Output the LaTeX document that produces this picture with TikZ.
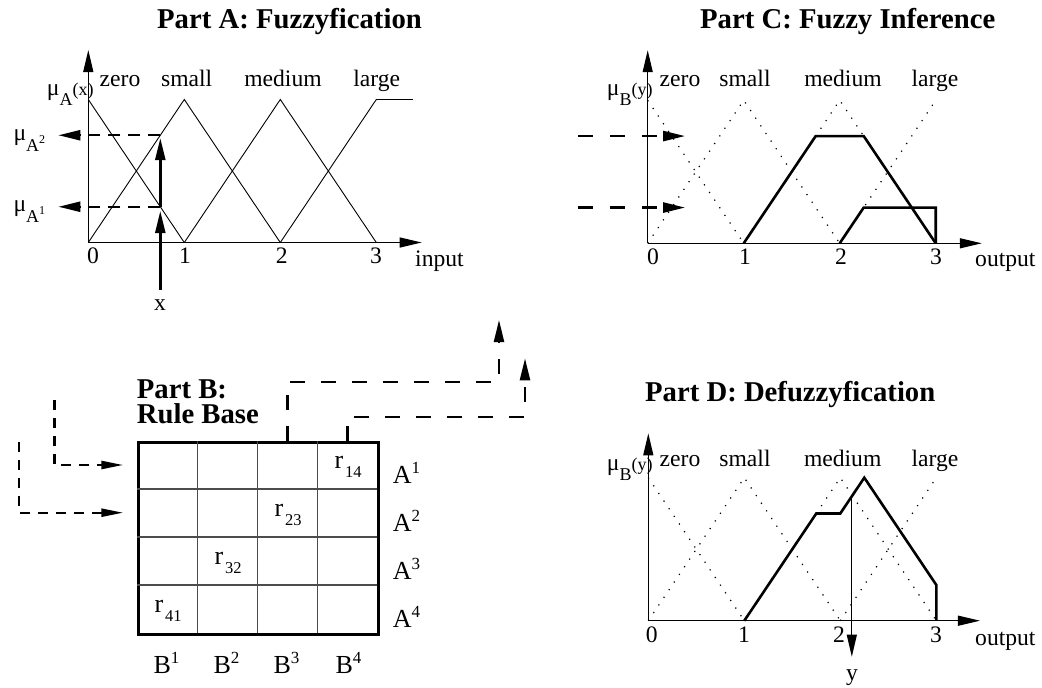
\documentclass[tikz,border=0pt]{standalone}
\usepackage{fontspec}
\setmainfont{Liberation Serif}
\usetikzlibrary{arrows.meta}
\newcommand\fsz[1]{\fontsize{#1pt}{#1pt}\selectfont}
\begin{document}
\begin{tikzpicture}[x=1pt,y=-1pt,
  lbl/.style={font=\fsz{23.6}, inner sep=0pt},
  ttl/.style={font=\fsz{28.7}\bfseries, inner sep=0pt},
  gl/.style={font=\fsz{26}, inner sep=0pt},
  axis/.style={line width=1.3pt, -{Triangle[length=22pt,width=10pt]}},
  mf/.style={line width=0.9pt},
  dotf/.style={line width=1.2pt, dash pattern=on 1.2pt off 8pt},
  res/.style={line width=2.6pt},
  thickarr/.style={line width=2.4pt, -{Triangle[length=22pt,width=10pt]}},
  thinarr/.style={line width=1pt, -{Triangle[length=22pt,width=10pt]}},
  dshA/.style={line width=2.4pt, dash pattern=on 12pt off 8pt, -{Triangle[length=22pt,width=10pt]}},
  dshC/.style={line width=2.4pt, dash pattern=on 15pt off 17pt, -{Triangle[length=22pt,width=10pt]}},
  dshB/.style={line width=2.4pt, dash pattern=on 10pt off 8pt, -{Triangle[length=22pt,width=8pt]}},
  dshT/.style={line width=2.4pt, dash pattern=on 15pt off 16pt, -{Triangle[length=22pt,width=10pt]}},
  inner/.style={line width=1.2pt, black!70}
]
\useasboundingbox (0,0) rectangle (1042,688);

% ---------------- Part A ----------------
\node[ttl, anchor=base west] (tA) at (157,28) {Part A: Fuzzyfication};
\begin{scope}[shift={(88.3,242.5)},x=96pt,y=143pt]
  \coordinate (A0) at (0,0);
  \coordinate (Ax) at (3.473,0);
  \coordinate (Ay) at (0,1.346);
  \draw[axis] (A0) -- (Ax);
  \draw[axis] (A0) -- (Ay);
  \draw[mf] (0,1) -- (1,0);
  \draw[mf] (0,0) -- (1,1) -- (2,0);
  \draw[mf] (1,0) -- (2,1) -- (3,0);
  \draw[mf] (2,0) -- (3,1) -- (3.38,1);
  \coordinate (Ain) at (0.75,-0.33);
  \coordinate (Ain1) at (0.75,0.22);
  \coordinate (A1) at (0.75,0.25);
  \coordinate (A2t) at (0.75,0.73);
  \coordinate (A2) at (0.75,0.75);
  \coordinate (A1e) at (-0.3125,0.25);
  \coordinate (A2e) at (-0.3125,0.75);
  \draw[dshA] (A2) -- (A2e);
  \draw[dshA] (A1) -- (A1e);
  \draw[thickarr] (Ain) -- (Ain1);
  \draw[thickarr] (A1) -- (A2t);
\end{scope}
\node[lbl, anchor=base west] (muA) at (46.7,95) {μ\raisebox{-10pt}{\fsz{18}A}\fsz{18}(x)};
\node[lbl, anchor=base west] (muA2) at (13.3,140) {μ\raisebox{-11pt}{\fsz{18}A\raisebox{8pt}{\fsz{12}2}}};
\node[lbl, anchor=base west] (muA1) at (13.3,211.7) {μ\raisebox{-11pt}{\fsz{18}A\raisebox{8pt}{\fsz{12}1}}};
\node[lbl, anchor=base] (zA) at (120,86.5) {zero};
\node[lbl, anchor=base] (sA) at (186.7,86.5) {small};
\node[lbl, anchor=base] (mA) at (283,86.5) {medium};
\node[lbl, anchor=base] (lA) at (376.7,86.5) {large};
\node[lbl, anchor=base] (a0) at (93,263.5) {0};
\node[lbl, anchor=base] (a1) at (185,263.5) {1};
\node[lbl, anchor=base] (a2) at (281.7,263.5) {2};
\node[lbl, anchor=base] (a3) at (376,263.5) {3};
\node[lbl, anchor=base west] (inp) at (415,266.7) {input};
\node[lbl, anchor=base] (xl) at (160,310) {x};

% ---------------- Part C ----------------
\node[ttl, anchor=base west] (tC) at (700,28) {Part C: Fuzzy Inference};
\begin{scope}[shift={(647.7,243.3)},x=96pt,y=143pt]
  \coordinate (C0) at (0,0);
  \coordinate (Cx) at (3.48,0);
  \coordinate (Cy) at (0,1.35);
  \draw[axis] (C0) -- (Cx);
  \draw[axis] (C0) -- (Cy);
  \draw[dotf] (0,1) -- (1,0);
  \draw[dotf] (0,0) -- (1,1) -- (2,0);
  \draw[dotf] (1,0) -- (2,1) -- (3,0);
  \draw[dotf] (2,0) -- (3,1);
  \draw[res] (1,0) -- (1.75,0.75) -- (2.25,0.75) -- (3,0);
  \draw[res] (2,0) -- (2.25,0.25) -- (3,0.25) -- (3,0);
  \coordinate (C2s) at (-0.726,0.75);
  \coordinate (C2t) at (0.39,0.75);
  \coordinate (C1s) at (-0.726,0.25);
  \coordinate (C1t) at (0.39,0.25);
  \draw[dshC] (C2s) -- (C2t);
  \draw[dshC] (C1s) -- (C1t);
\end{scope}
\node[lbl, anchor=base west] (muC) at (606.7,95) {μ\raisebox{-10pt}{\fsz{18}B}\fsz{18}(y)};
\node[lbl, anchor=base] (zC) at (680,86.5) {zero};
\node[lbl, anchor=base] (sC) at (745,86.5) {small};
\node[lbl, anchor=base] (mC) at (843,86.5) {medium};
\node[lbl, anchor=base] (lC) at (935,86.5) {large};
\node[lbl, anchor=base] (c0) at (653,264) {0};
\node[lbl, anchor=base] (c1) at (745,264) {1};
\node[lbl, anchor=base] (c2) at (841,264) {2};
\node[lbl, anchor=base] (c3) at (936,264) {3};
\node[lbl, anchor=base west] (outC) at (975,266.7) {output};

% ---------------- Part D ----------------
\node[ttl, anchor=base west] (tD) at (645,401) {Part D: Defuzzyfication};
\begin{scope}[shift={(648.3,620.7)},x=96pt,y=143pt]
  \coordinate (D0) at (0,0);
  \coordinate (Dx) at (3.455,0);
  \coordinate (Dy) at (0,1.31);
  \draw[axis] (D0) -- (Dx);
  \draw[axis] (D0) -- (Dy);
  \draw[dotf] (0,1) -- (1,0);
  \draw[dotf] (0,0) -- (1,1) -- (2,0);
  \draw[dotf] (1,0) -- (2,1) -- (3,0);
  \draw[dotf] (2,0) -- (3,1);
  \draw[res] (1,0) -- (1.75,0.75) -- (2,0.75) -- (2.25,1) -- (3,0.25) -- (3,0);
  \coordinate (Dys) at (2.12,0.87);
  \coordinate (Dyt) at (2.12,-0.252);
  \draw[thinarr] (Dys) -- (Dyt);
\end{scope}
\node[lbl, anchor=base west] (muD) at (606.7,470) {μ\raisebox{-10pt}{\fsz{18}B}\fsz{18}(y)};
\node[lbl, anchor=base] (zD) at (680,466) {zero};
\node[lbl, anchor=base] (sD) at (745,466) {small};
\node[lbl, anchor=base] (mD) at (842.7,466) {medium};
\node[lbl, anchor=base] (lD) at (935,466) {large};
\node[lbl, anchor=base] (d0) at (651.7,642) {0};
\node[lbl, anchor=base] (d1) at (744,642) {1};
\node[lbl, anchor=base] (d2) at (839,642) {2};
\node[lbl, anchor=base] (d3) at (936,642) {3};
\node[lbl, anchor=base west] (outD) at (975,645.7) {output};
\node[lbl, anchor=base] (yl) at (852,680) {y};

% ---------------- Part B ----------------
\node[ttl, anchor=base west] (tB1) at (136.7,398.3) {Part B:};
\node[ttl, anchor=base west] (tB2) at (136.7,423.3) {Rule Base};
\node[draw, line width=2.6pt, minimum width=240pt, minimum height=192pt,
      inner sep=0pt, anchor=north west] (grid) at (137.3,441) {};
\foreach \i in {1,2,3} {
  \draw[inner] (137.3+60*\i,441) -- (137.3+60*\i,633);
  \draw[inner] (137.3,441+48*\i) -- (377.3,441+48*\i);
}
\node[gl, anchor=base west] (r14) at (334.3,468) {r\hspace{2pt}\raisebox{-9pt}{\fsz{16.5}14}};
\node[gl, anchor=base west] (r23) at (274.3,516) {r\hspace{2pt}\raisebox{-9pt}{\fsz{16.5}23}};
\node[gl, anchor=base west] (r32) at (214.3,564) {r\hspace{2pt}\raisebox{-9pt}{\fsz{16.5}32}};
\node[gl, anchor=base west] (r41) at (154.3,612) {r\hspace{2pt}\raisebox{-9pt}{\fsz{16.5}41}};
\node[gl, anchor=base west] (gA1) at (392.7,483) {A\raisebox{9.5pt}{\fsz{17}1}};
\node[gl, anchor=base west] (gA2) at (392.7,531) {A\raisebox{9.5pt}{\fsz{17}2}};
\node[gl, anchor=base west] (gA3) at (392.7,579) {A\raisebox{9.5pt}{\fsz{17}3}};
\node[gl, anchor=base west] (gA4) at (392.7,627) {A\raisebox{9.5pt}{\fsz{17}4}};
\node[gl, anchor=base west] (gB1) at (153.3,673.3) {B\raisebox{9.5pt}{\fsz{17}1}};
\node[gl, anchor=base west] (gB2) at (213.3,673.3) {B\raisebox{9.5pt}{\fsz{17}2}};
\node[gl, anchor=base west] (gB3) at (273.3,673.3) {B\raisebox{9.5pt}{\fsz{17}3}};
\node[gl, anchor=base west] (gB4) at (335.3,673.3) {B\raisebox{9.5pt}{\fsz{17}4}};

\coordinate (L1s) at (54.3,400);
\coordinate (L1t) at (123.3,465);
\coordinate (L2s) at (19,441.7);
\coordinate (L2t) at (123.3,512.7);
\draw[dshB] (L1s) |- (L1t);
\draw[dshB] (L2s) |- (L2t);

\coordinate (T1s) at (287.3,441);
\coordinate (T1a) at (287.3,381.7);
\coordinate (T1b) at (499,381.7);
\coordinate (T1t) at (499,320);
\coordinate (T2s) at (347.3,441);
\coordinate (T2a) at (347.3,416.7);
\coordinate (T2b) at (525,416.7);
\coordinate (T2t) at (525,358.3);
\draw[dshT] (T1s) -- (T1a) -- (T1b) -- (T1t);
\draw[dshT] (T2s) -- (T2a) -- (T2b) -- (T2t);
\end{tikzpicture}
\end{document}
